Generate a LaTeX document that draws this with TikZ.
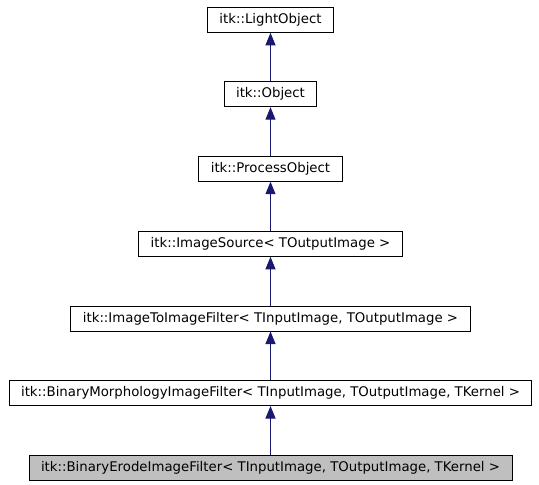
\documentclass[tikz,border=0pt]{standalone}
\usepackage{fontspec}
\setmainfont{DejaVu Sans}
\usetikzlibrary{arrows.meta}
\definecolor{edgeblue}{HTML}{191970}
\definecolor{curgray}{HTML}{BFBFBF}
\tikzset{
  cls/.style={draw=black, line width=1pt, fill=white, minimum height=25pt, inner ysep=0pt, inner xsep=12pt, font=\fontsize{13.3}{15}\selectfont, anchor=center},
  cur/.style={cls, fill=curgray},
  inherit/.style={draw=edgeblue, line width=1pt, -{Triangle[length=12.5pt,width=10pt,fill=edgeblue]}}
}
\begin{document}
\begin{tikzpicture}[x=1pt,y=-1pt]
\useasboundingbox (0,0) rectangle (539,485);
\node[cls] (lo) at (270.5,19.8) {itk::LightObject};
\node[cls] (ob) at (270.5,94.2) {itk::Object};
\node[cls] (po) at (270.5,168.7) {itk::ProcessObject};
\node[cls] (is) at (270.5,243.8) {itk::ImageSource< TOutputImage >};
\node[cls] (ii) at (270.5,318.5) {itk::ImageToImageFilter< TInputImage, TOutputImage >};
\node[cls] (bm) at (270.5,393) {itk::BinaryMorphologyImageFilter< TInputImage, TOutputImage, TKernel >};
\node[cur] (be) at (270.5,468) {itk::BinaryErodeImageFilter< TInputImage, TOutputImage, TKernel >};
\draw[inherit] (ob) -- (lo);
\draw[inherit] (po) -- (ob);
\draw[inherit] (is) -- (po);
\draw[inherit] (ii) -- (is);
\draw[inherit] (bm) -- (ii);
\draw[inherit] (be) -- (bm);
\end{tikzpicture}
\end{document}
